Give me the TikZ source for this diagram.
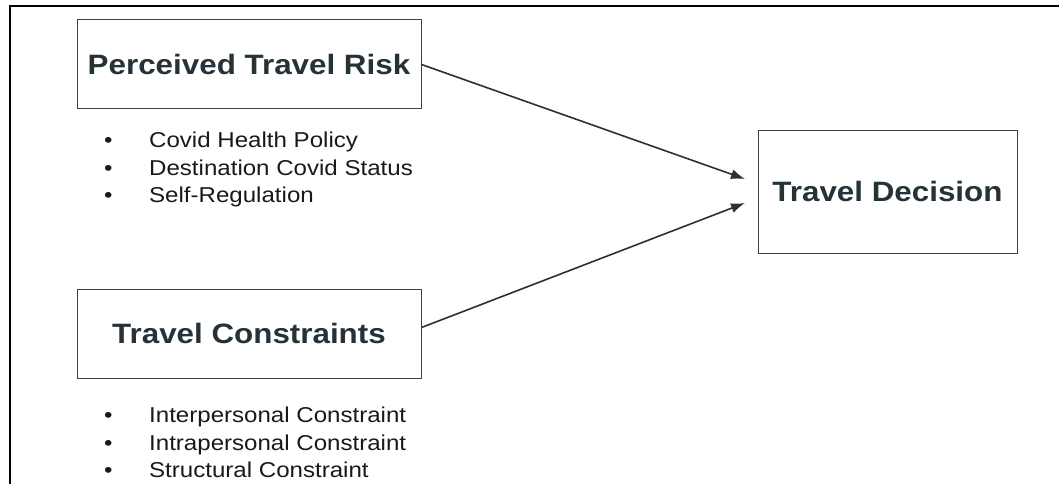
\documentclass[tikz,border=0pt]{standalone}
\usepackage{fontspec}
\setmainfont{Liberation Sans}[FakeStretch=1.12]
\usepackage{tikz}
\usetikzlibrary{arrows,arrows.meta,positioning}
\definecolor{headcol}{RGB}{38,50,56}
\definecolor{linecol}{RGB}{60,66,68}

\begin{document}
\begin{tikzpicture}[x=1pt,y=-1pt]
\tikzstyle{box}=[rectangle,draw=linecol,line width=1pt,minimum width=344pt,minimum height=89pt,inner sep=0pt,
  font=\fontsize{28}{32}\selectfont\bfseries,text=headcol]
\tikzstyle{item}=[anchor=base west,inner sep=0pt,font=\fontsize{21.5}{26}\selectfont,text=black!90]
\tikzstyle{link}=[-{Latex[length=14pt,width=10pt]},line width=1.6pt,draw=headcol]
\useasboundingbox (0,0) rectangle (1059,484);
\draw[line width=1.5pt] (1059,6) -- (10,6) -- (10,484);
% boxes
\node[box] (risk) at (249,64.5) {Perceived Travel Risk};
\node[box] (cons) at (249,333.5) {Travel Constraints};
\node[box,minimum width=259pt,minimum height=123pt] (dec) at (887.5,191.5) {Travel Decision};
% bullet lists
\foreach \txt [count=\i] in {Covid Health Policy,Destination Covid Status,Self-Regulation}
  \node[item] (risk-\i) at (104,147.5+27.5*\i-27.5) {\makebox[45pt][l]{\textbullet}\txt};
\foreach \txt [count=\i] in {Interpersonal Constraint,Intrapersonal Constraint,Structural Constraint}
  \node[item] (cons-\i) at (104,422.5+27.5*\i-27.5) {\makebox[45pt][l]{\textbullet}\txt};
% arrows
\coordinate (in1) at (745,179);
\coordinate (in2) at (745,203);
\draw[link] (risk.east) -- (in1);
\draw[link] ([yshift=6pt]cons.east) -- (in2);
\end{tikzpicture}
\end{document}
